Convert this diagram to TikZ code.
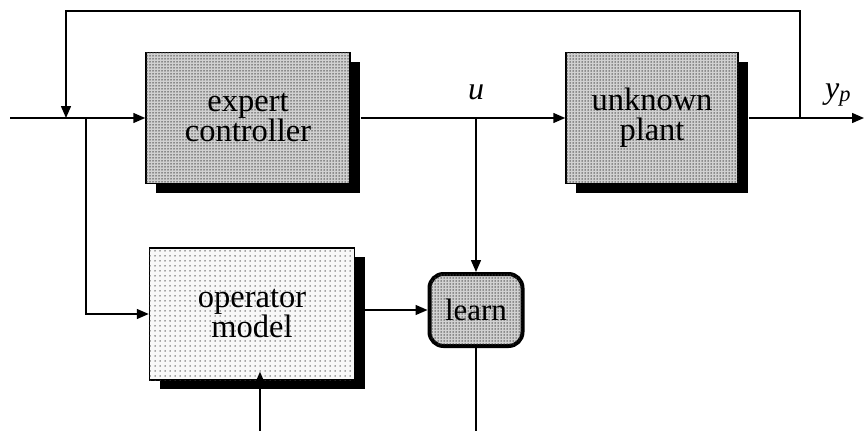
\documentclass[tikz,border=0pt]{standalone}
\usepackage{fontspec}
\setmainfont{Liberation Serif}
\newfontfamily\tnr{Liberation Serif}
\usetikzlibrary{arrows.meta,shadows,patterns.meta}
\begin{document}
\begin{tikzpicture}[x=1pt,y=-1pt,
  line width=1.5pt,
  arr/.style={-{Triangle[length=12pt,width=10pt]}},
  txt/.style={font=\tnr\fontsize{32.5pt}{30pt}\selectfont},
  blk/.style={draw=black, line width=1.5pt, align=center, txt,
    drop shadow={shadow xshift=10pt, shadow yshift=-9pt, fill=black, opacity=1}},
  darkdots/.style={fill=black!18, postaction={pattern={Dots[distance=3pt,radius=0.75pt]}, pattern color=black!75}},
  lightdots/.style={fill=black!3, postaction={pattern={Dots[distance=5pt,radius=0.75pt]}, pattern color=black!70}},
  lbl/.style={font=\tnr\fontsize{32pt}{34pt}\selectfont\itshape}]
\useasboundingbox (0,0) rectangle (865,431);

\node[blk, darkdots, minimum width=204pt, minimum height=131pt] (exp) at (248,118) {expert\\controller};
\node[blk, darkdots, minimum width=172pt, minimum height=131pt] (plant) at (652,118) {unknown\\plant};
\node[blk, lightdots, minimum width=205pt, minimum height=132pt] (op) at (252,314) {operator\\model};
\node[draw=black, line width=4pt, rounded corners=14pt, darkdots, minimum width=93pt, minimum height=72pt,
  font=\tnr\fontsize{31pt}{32pt}\selectfont, inner sep=0pt] (learn) at (476,310) {learn};

\coordinate (in) at (10,118);
\coordinate (jl) at (66,118);
\coordinate (br) at (86,118);
\coordinate (uj) at (476,118);
\coordinate (yj) at (800,118);
\coordinate (out) at (864,118);
\coordinate (tl) at (66,11);
\coordinate (tr) at (800,11);
\coordinate (bl) at (476,431);
\coordinate (bo) at (260,431);

\node[lbl] (ulab) at (476,92) {u};
\node[lbl] (ylab) at (838,95) {y\textsubscript{\itshape p}};

\draw[arr] (in) -- (exp.west);
\draw[arr] (yj) -- (tr) -- (tl) -- (jl);
\draw[arr] ([xshift=10pt]exp.east) -- (plant.west);
\draw[arr] ([xshift=10pt]plant.east) -- (out);
\draw[arr] (br) |- (op.west);
\draw[arr] (uj) -- (learn.north);
\draw[arr] ([xshift=10pt]op.east |- learn.west) -- (learn.west);
\draw (learn.south) -- (bl);
\draw[arr] (bo) -- ([yshift=9pt]op.south -| bo);
\end{tikzpicture}
\end{document}
